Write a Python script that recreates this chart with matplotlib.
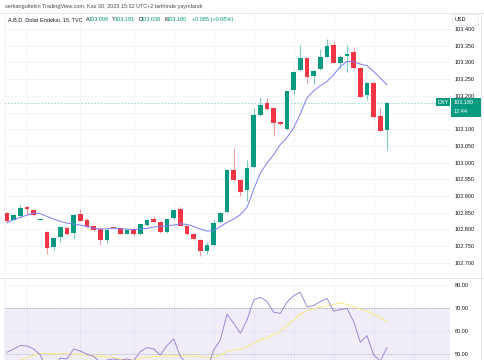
import matplotlib
matplotlib.use("Agg")
import matplotlib.pyplot as plt
from matplotlib.patches import Rectangle

# 15 dakikalik DXY mumlari
opens = [102.848, 102.829, 102.841, 102.867, 102.859, 102.829, 102.792, 102.747, 102.777, 102.805,
         102.790, 102.846, 102.829, 102.811, 102.801, 102.767, 102.805, 102.804, 102.787, 102.801,
         102.787, 102.813, 102.831, 102.823, 102.793, 102.833, 102.861, 102.811, 102.786, 102.769,
         102.736, 102.754, 102.822, 102.851, 102.978, 102.948, 102.918, 102.986, 103.143, 103.178,
         103.163, 103.122, 103.101, 103.217, 103.277, 103.312, 103.259, 103.279, 103.317, 103.352,
         103.299, 103.319, 103.330, 103.284, 103.202, 103.239, 103.139, 103.098]
highs = [102.852, 102.846, 102.872, 102.869, 102.862, 102.831, 102.794, 102.776, 102.809, 102.811,
         102.845, 102.861, 102.833, 102.814, 102.803, 102.800, 102.808, 102.806, 102.799, 102.803,
         102.817, 102.832, 102.839, 102.825, 102.833, 102.859, 102.866, 102.813, 102.788, 102.771,
         102.761, 102.832, 102.852, 102.980, 103.043, 102.950, 103.009, 103.163, 103.197, 103.192,
         103.165, 103.124, 103.215, 103.274, 103.352, 103.314, 103.277, 103.340, 103.369, 103.365,
         103.323, 103.352, 103.345, 103.286, 103.241, 103.241, 103.163, 103.181]
lows = [102.822, 102.827, 102.838, 102.843, 102.841, 102.828, 102.727, 102.739, 102.763, 102.783,
        102.771, 102.824, 102.805, 102.795, 102.752, 102.760, 102.803, 102.785, 102.785, 102.780,
        102.784, 102.811, 102.821, 102.790, 102.788, 102.831, 102.809, 102.783, 102.769, 102.721,
        102.727, 102.751, 102.820, 102.849, 102.946, 102.899, 102.884, 102.984, 103.141, 103.158,
        103.080, 103.113, 103.098, 103.205, 103.275, 103.237, 103.235, 103.277, 103.315, 103.297,
        103.279, 103.272, 103.280, 103.195, 103.187, 103.135, 103.094, 103.038]
closes = [102.826, 102.843, 102.865, 102.861, 102.843, 102.830, 102.744, 102.774, 102.807, 102.785,
          102.842, 102.826, 102.807, 102.797, 102.769, 102.797, 102.804, 102.787, 102.797, 102.787,
          102.815, 102.829, 102.823, 102.793, 102.831, 102.857, 102.811, 102.785, 102.771, 102.736,
          102.752, 102.819, 102.850, 102.978, 102.948, 102.911, 102.985, 103.143, 103.173, 103.160,
          103.120, 103.115, 103.213, 103.272, 103.312, 103.257, 103.275, 103.315, 103.349, 103.299,
          103.317, 103.325, 103.282, 103.197, 103.239, 103.137, 103.096, 103.180]
ma_line = [102.820, 102.829, 102.836, 102.843, 102.849, 102.847, 102.839, 102.831, 102.824, 102.819,
           102.816, 102.813, 102.809, 102.804, 102.801, 102.802, 102.804, 102.802, 102.801, 102.799,
           102.801, 102.803, 102.807, 102.809, 102.811, 102.813, 102.817, 102.815, 102.809, 102.801,
           102.795, 102.797, 102.808, 102.821, 102.831, 102.844, 102.866, 102.919, 102.969, 102.999,
           103.024, 103.054, 103.075, 103.104, 103.146, 103.194, 103.215, 103.230, 103.243, 103.263,
           103.288, 103.303, 103.302, 103.295, 103.290, 103.273, 103.253, 103.233]
rsi = [50.9, 52.3, 53.8, 53.6, 52.3, 49.7, 43.0, 45.0, 48.3, 48.0,
       52.3, 51.4, 50.0, 49.1, 46.5, 47.5, 48.0, 47.4, 48.0, 47.2,
       51.2, 52.9, 52.3, 49.7, 53.8, 56.7, 49.0, 46.0, 44.0, 41.0,
       43.0, 51.9, 56.2, 67.4, 63.5, 59.1, 64.9, 73.6, 74.8, 72.9,
       68.3, 67.8, 72.6, 75.5, 77.0, 70.6, 71.2, 72.9, 74.3, 68.8,
       69.4, 70.0, 64.2, 55.2, 58.1, 49.7, 47.1, 52.9]
rsi_ma = [45.5, 46.5, 47.5, 48.5, 49.7, 50.4, 50.4, 50.1, 50.3, 50.3,
          50.2, 50.0, 49.6, 49.3, 49.1, 49.0, 48.6, 48.0, 47.7, 47.5,
          48.3, 48.7, 49.0, 49.2, 49.3, 49.4, 49.4, 49.3, 49.2, 49.0,
          48.6, 48.6, 49.7, 51.2, 51.9, 52.3, 53.3, 54.8, 56.2, 57.2,
          58.7, 60.1, 62.5, 64.9, 67.5, 69.0, 69.7, 70.4, 71.2, 71.7,
          72.2, 71.7, 70.7, 69.7, 68.8, 67.4, 65.9, 64.2]
price_ticks = [102.70, 102.75, 102.80, 102.85, 102.90, 102.95, 103.00, 103.05,
               103.10, 103.15, 103.20, 103.25, 103.30, 103.35, 103.40]
rsi_ticks = [50, 60, 70, 80]
time_grid = [3, 11, 19, 25, 31, 37, 43, 49, 55, 61]
last_price = 103.180

UP = '#089981'
DOWN = '#F23645'
GRID = '#F0F3FA'
TXT = '#131722'
W, H = 485, 360

plt.rcParams['font.family'] = ['Liberation Sans', 'DejaVu Sans']


def box(x0, y0, x1, y1):
    """piksel koordinatlarindan figure kutusu"""
    return [x0 / W, 1 - y1 / H, (x1 - x0) / W, (y1 - y0) / H]


def main():
    fig = plt.figure(figsize=(4.85, 3.6), dpi=100)
    ax = fig.add_axes(box(4, 14, 450, 277.5))
    ax2 = fig.add_axes(box(4, 278.5, 450, 360), sharex=ax)

    n = len(closes)
    # mumlar
    for i in range(n):
        o, h, l, c = opens[i], highs[i], lows[i], closes[i]
        col = UP if c >= o else DOWN
        ax.vlines(i, l, h, color=col, lw=0.8, alpha=0.5, zorder=3)
        ax.add_patch(Rectangle((i - 0.37, min(o, c)), 0.74, max(abs(c - o), 0.0025),
                               color=col, lw=0, zorder=4))
    ax.plot(range(n), ma_line, color='#7C7CF8', lw=0.7, zorder=5)
    ax.axhline(last_price, color=UP, lw=0.6, ls=(0, (2, 2)), alpha=0.45, zorder=2)

    ax.set_xlim(-0.45, 66.45)
    ax.set_ylim(102.656, 103.445)
    ax.set_yticks(price_ticks)
    # 103.150 etiketi son fiyat kutusunun altinda kaliyor
    ax.set_yticklabels(['' if abs(t - 103.15) < 1e-9 else f'{t:.3f}' for t in price_ticks])

    # RSI paneli
    ax2.axhspan(30, 70, color='#7E57C2', alpha=0.1, lw=0, zorder=1)
    ax2.axhline(70, color='#9598A1', lw=0.5, ls=(0, (2, 2)), zorder=2)
    ax2.axhline(50, color='#9598A1', lw=0.5, ls=(0, (2, 2)), alpha=0.6, zorder=2)
    ax2.plot(range(n), rsi, color='#9F86D6', lw=0.7, zorder=4)
    ax2.plot(range(n), rsi_ma, color='#FBEB7C', lw=0.7, zorder=3)
    ax2.set_ylim(47.52, 82.96)
    ax2.set_yticks(rsi_ticks)
    ax2.set_yticklabels([f'{t:.2f}' for t in rsi_ticks])

    for a in (ax, ax2):
        for s in a.spines.values():
            s.set_visible(False)
        a.yaxis.tick_right()
        a.tick_params(axis='y', length=0, pad=3.6, labelsize=4, labelcolor=TXT)
        a.tick_params(axis='x', length=0, labelbottom=False)
        a.set_xticks(time_grid)
        a.grid(True, color=GRID, lw=0.6, zorder=0)
        a.set_axisbelow(True)

    # ust bilgi ve etiketler icin piksel katmani
    ov = fig.add_axes([0, 0, 1, 1])
    ov.set_xlim(0, W)
    ov.set_ylim(H, 0)
    ov.axis('off')
    ov.plot([0, W], [13, 13], color='#E0E3EB', lw=0.6)
    ov.plot([0, W], [277.9, 277.9], color='#E0E3EB', lw=0.6)
    ov.plot([481, 481], [13, H], color='#E0E3EB', lw=0.6)
    ov.plot([4, 4], [13, H], color=GRID, lw=0.6)

    ov.text(5, 6.5, 'serkangultekin TradingView.com, Kas 30, 2023 15:32 UTC+2 tarihinde yayınlandı',
            fontsize=4, color='#4A4A4A', va='center')
    parts = [(8, 'A.B.D. Dolar Endeksi, 15, TVC', TXT), (86, 'A', TXT), (88.5, '103.098', UP),
             (112, 'Y', TXT), (114.5, '103.181', UP), (138.5, 'D', TXT), (141, '103.038', UP),
             (164.5, 'K', TXT), (167, '103.180', UP), (192, '+0.085 (+0.08%)', UP)]
    for x, s, col in parts:
        ov.text(x, 19.5, s, fontsize=4, color=col, va='center')

    ov.add_patch(Rectangle((452, 14), 26, 11, facecolor='white', edgecolor='#E0E3EB', lw=0.5))
    ov.text(455, 19.5, 'USD', fontsize=4, color=TXT, va='center')

    ov.add_patch(Rectangle((436, 98.3), 14, 8, color=UP, lw=0))
    ov.add_patch(Rectangle((451, 98.3), 30, 18.4, color=UP, lw=0))
    ov.text(438, 102.3, 'DXY', fontsize=4, color='white', va='center')
    ov.text(454, 102.3, f'{last_price:.3f}', fontsize=4, color='white', va='center')
    ov.text(454, 111.5, '12:44', fontsize=4, color='white', va='center')

    fig.savefig('out.png', dpi=100)


if __name__ == "__main__":
    main()
